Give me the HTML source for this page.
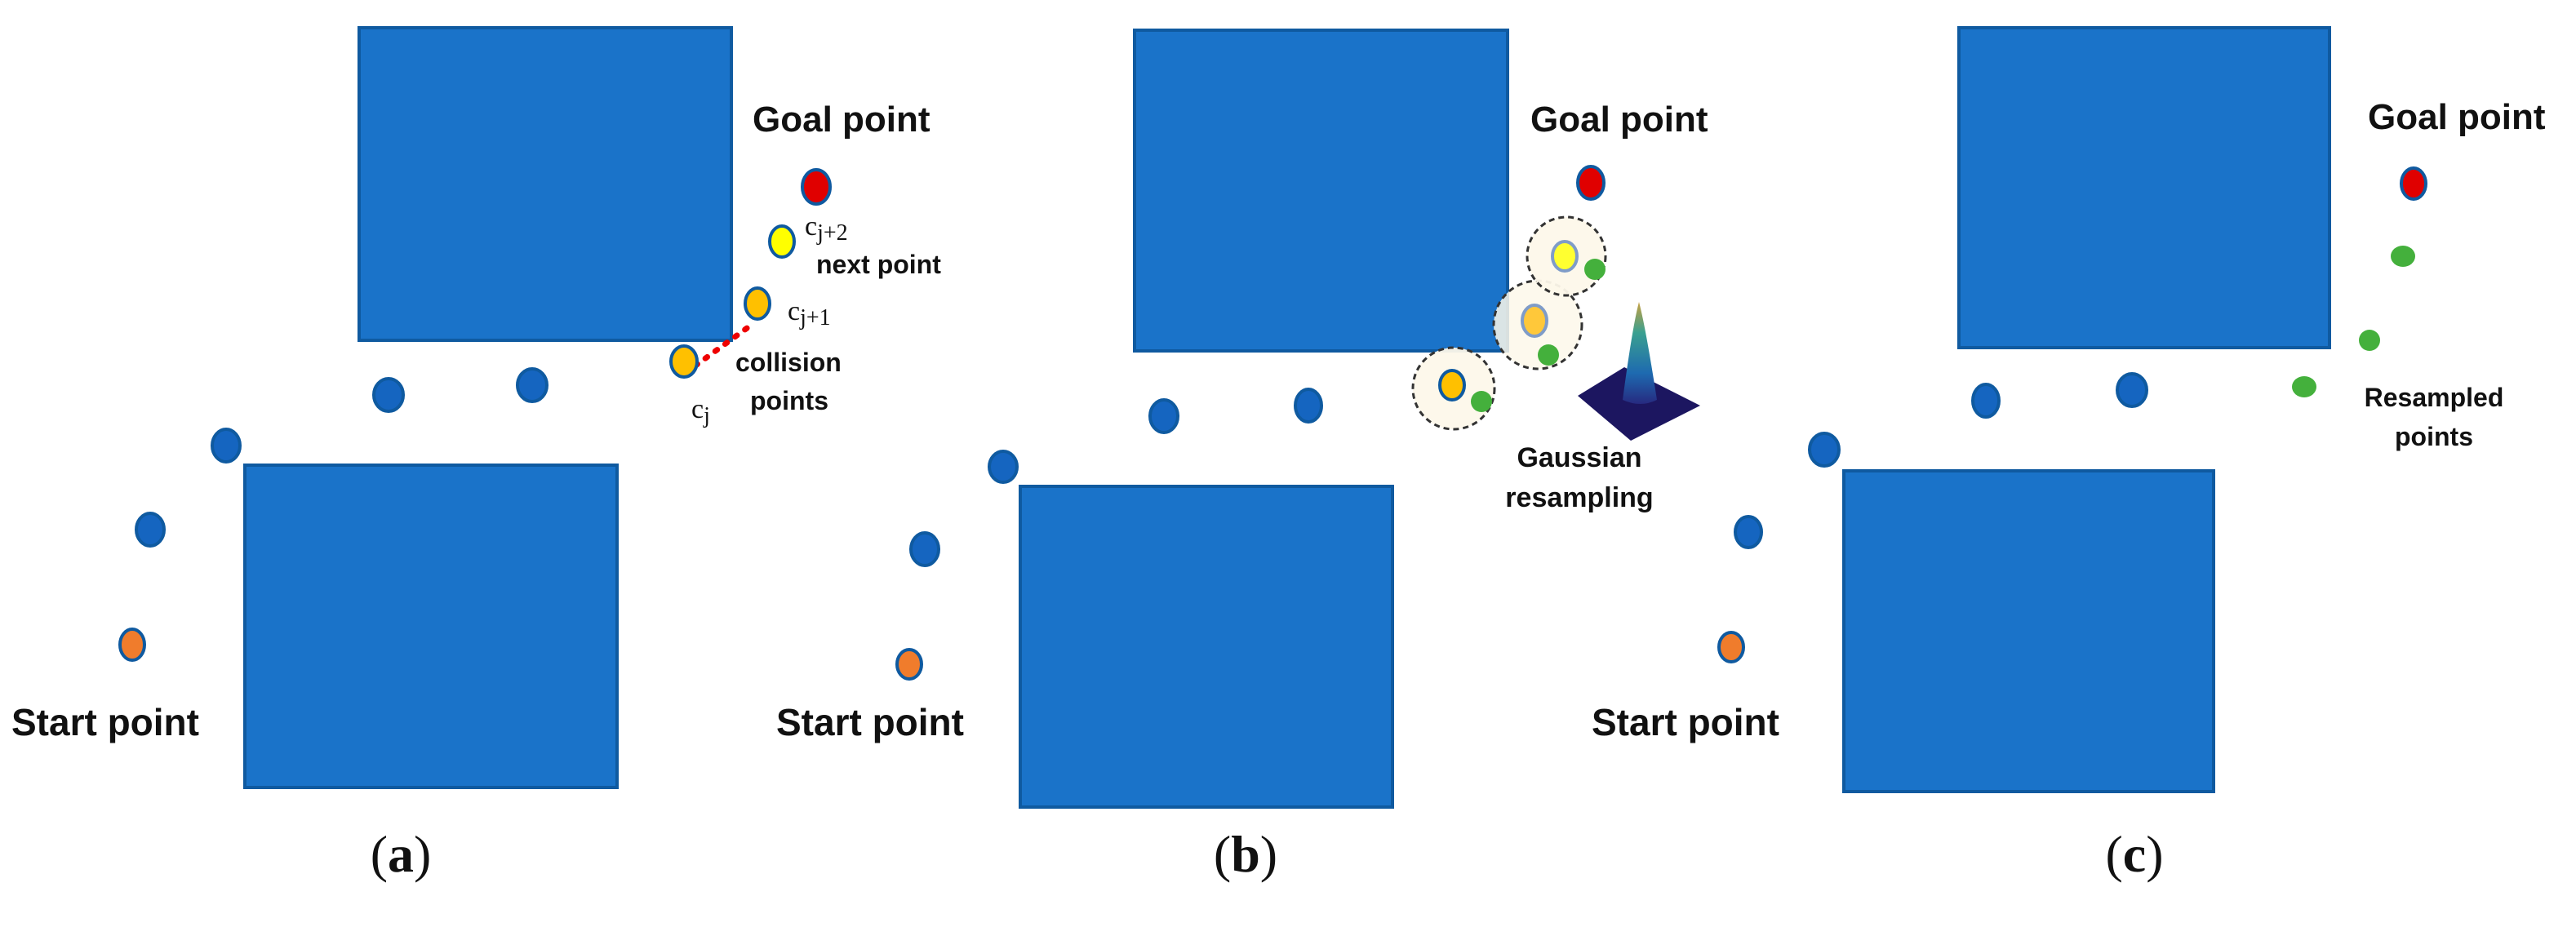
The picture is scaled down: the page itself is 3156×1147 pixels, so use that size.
<!DOCTYPE html>
<html><head><meta charset="utf-8"><style>
html,body{margin:0;padding:0;background:#fff;}
svg{display:block;}
.t{font-family:"Liberation Sans",sans-serif;font-weight:bold;fill:#111;}
.m{font-family:"Liberation Serif",serif;fill:#111;}
</style></head><body>
<svg width="3156" height="1147" viewBox="0 0 3156 1147" xmlns="http://www.w3.org/2000/svg">
<defs>
<linearGradient id="pk" x1="0" y1="0" x2="0" y2="1">
<stop offset="0" stop-color="#c8a040"/><stop offset="0.3" stop-color="#3aa090"/><stop offset="0.7" stop-color="#1e6ab0"/><stop offset="1" stop-color="#262a80"/>
</linearGradient>
</defs>
<g fill="#1a73c9" stroke="#0f5aa0" stroke-width="4">
<!-- panel a -->
<rect x="440" y="34" width="456" height="383"/>
<rect x="300" y="570" width="456" height="395"/>
<!-- panel b -->
<rect x="1390" y="37" width="457" height="393"/>
<rect x="1250" y="596" width="456" height="393"/>
<!-- panel c -->
<rect x="2400" y="34" width="454" height="392"/>
<rect x="2259" y="577" width="453" height="393"/>
</g>
<!-- panel a dots -->
<g stroke="#0f5aa0" stroke-width="4">
<ellipse cx="162" cy="790" rx="15" ry="19" fill="#f07c2c"/>
<ellipse cx="184" cy="649" rx="17" ry="20" fill="#1565c0"/>
<ellipse cx="277" cy="546" rx="17" ry="20" fill="#1565c0"/>
<ellipse cx="476" cy="484" rx="18" ry="20" fill="#1565c0"/>
<ellipse cx="652" cy="472" rx="18" ry="20" fill="#1565c0"/>
</g>
<line x1="852" y1="448" x2="918" y2="400" stroke="#e00" stroke-width="7" stroke-dasharray="3 12" stroke-linecap="round"/>
<g stroke="#0f5aa0" stroke-width="4">
<ellipse cx="838" cy="443" rx="16" ry="19" fill="#ffc000"/>
<ellipse cx="928" cy="372" rx="15" ry="19" fill="#ffc000"/>
<ellipse cx="958" cy="296" rx="15" ry="19" fill="#ffff00"/>
<ellipse cx="1000" cy="229" rx="17" ry="21" fill="#e00000"/>
</g>
<text class="t" x="922" y="161" font-size="44">Goal point</text>
<text class="t" x="14" y="901" font-size="46">Start point</text>
<text class="m" x="986" y="288" font-size="34">c<tspan font-size="28" dy="6">j+2</tspan></text>
<text class="t" x="1000" y="335" font-size="32">next point</text>
<text class="m" x="965" y="392" font-size="34">c<tspan font-size="28" dy="6">j+1</tspan></text>
<text class="t" x="901" y="455" font-size="32">collision</text>
<text class="t" x="919" y="502" font-size="32">points</text>
<text class="m" x="847" y="512" font-size="34">c<tspan font-size="28" dy="6">j</tspan></text>
<text class="m" x="491" y="1068" font-size="64" text-anchor="middle">(<tspan font-weight="bold">a</tspan>)</text>

<!-- panel b dots -->
<g stroke="#0f5aa0" stroke-width="4">
<ellipse cx="1114" cy="814" rx="15" ry="18" fill="#f07c2c"/>
<ellipse cx="1133" cy="673" rx="17" ry="20" fill="#1565c0"/>
<ellipse cx="1229" cy="572" rx="17" ry="19" fill="#1565c0"/>
<ellipse cx="1426" cy="510" rx="17" ry="20" fill="#1565c0"/>
<ellipse cx="1603" cy="497" rx="16" ry="20" fill="#1565c0"/>
</g>
<g fill="#fdf8ea" stroke="#333" stroke-width="3" stroke-dasharray="7 5">
<circle cx="1781" cy="476" r="50" fill-opacity="0.95"/>
<circle cx="1884" cy="398" r="54" fill-opacity="0.85"/>
<circle cx="1919" cy="314" r="48" fill-opacity="0.95"/>
</g>
<ellipse cx="1779" cy="472" rx="15" ry="18" fill="#ffc000" stroke="#0f5aa0" stroke-width="4"/>
<ellipse cx="1880" cy="393" rx="15" ry="19" fill="#ffc83a" stroke="#7f9cc8" stroke-width="4"/>
<ellipse cx="1917" cy="314" rx="15" ry="18" fill="#ffff30" stroke="#7f9cc8" stroke-width="4"/>
<g fill="#44b03c">
<circle cx="1815" cy="492" r="13"/><circle cx="1897" cy="435" r="13"/><circle cx="1954" cy="330" r="13"/>
</g>
<ellipse cx="1949" cy="224" rx="16" ry="20" fill="#e00000" stroke="#0f5aa0" stroke-width="4"/>
<polygon points="1933,485 1990,450 2083,497 1998,540" fill="#1c1660"/>
<path d="M1988,490 Q2000,400 2008,370 Q2016,400 2030,490 Q2010,500 1988,490 Z" fill="url(#pk)"/>
<text class="t" x="1935" y="572" font-size="34" text-anchor="middle">Gaussian</text>
<text class="t" x="1935" y="621" font-size="34" text-anchor="middle">resampling</text>
<text class="t" x="1875" y="161" font-size="44">Goal point</text>
<text class="t" x="951" y="901" font-size="46">Start point</text>
<text class="m" x="1526" y="1068" font-size="64" text-anchor="middle">(<tspan font-weight="bold">b</tspan>)</text>

<!-- panel c -->
<g stroke="#0f5aa0" stroke-width="4">
<ellipse cx="2121" cy="793" rx="15" ry="18" fill="#f07c2c"/>
<ellipse cx="2142" cy="652" rx="16" ry="19" fill="#1565c0"/>
<ellipse cx="2235" cy="551" rx="18" ry="20" fill="#1565c0"/>
<ellipse cx="2433" cy="491" rx="16" ry="20" fill="#1565c0"/>
<ellipse cx="2612" cy="478" rx="18" ry="20" fill="#1565c0"/>
<ellipse cx="2957" cy="225" rx="15" ry="19" fill="#e00000"/>
</g>
<g fill="#44b03c">
<ellipse cx="2944" cy="314" rx="15" ry="13"/><ellipse cx="2903" cy="417" rx="13" ry="13"/><ellipse cx="2823" cy="474" rx="15" ry="13"/>
</g>
<text class="t" x="2901" y="158" font-size="44">Goal point</text>
<text class="t" x="1950" y="901" font-size="46">Start point</text>
<text class="t" x="2982" y="498" font-size="32" text-anchor="middle">Resampled</text>
<text class="t" x="2982" y="546" font-size="32" text-anchor="middle">points</text>
<text class="m" x="2615" y="1068" font-size="64" text-anchor="middle">(<tspan font-weight="bold">c</tspan>)</text>
</svg>
</body></html>
